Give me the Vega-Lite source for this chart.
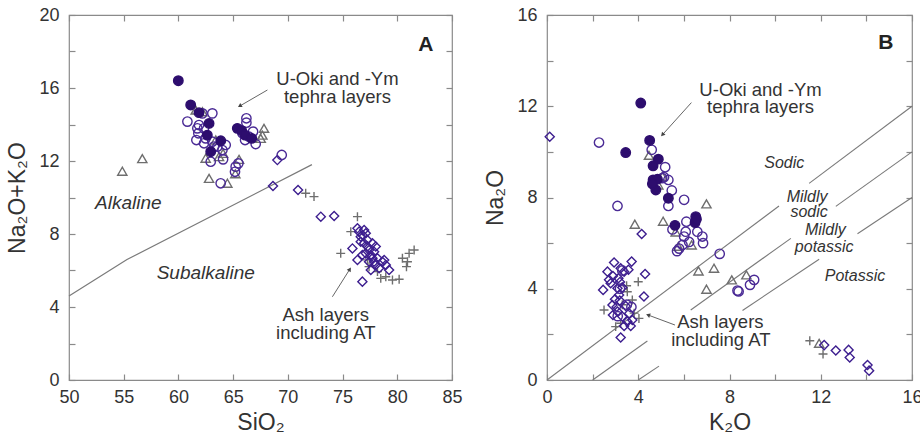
{
"$schema": "https://vega.github.io/schema/vega-lite/v6.json",
"background": "white",
"padding": {"left": 6, "top": 5, "right": 5, "bottom": 5},
"spacing": 21,
"config": {
 "font": "Liberation Sans",
 "view": {"stroke": "#8a8a8a", "strokeWidth": 1.2},
 "axis": {"domain": false, "grid": false, "tickColor": "#8a8a8a", "tickSize": -6, "tickWidth": 1.2, "labelFont": "Liberation Sans", "labelFontSize": 18, "labelColor": "#333333", "labelPadding": 15, "titleFont": "Liberation Sans", "titleFontSize": 23, "titleFontWeight": "normal", "titleColor": "#333333", "labelFlush": false, "labelOverlap": false}
},
"datasets": {
 "a_pts": [
  {"t":"tri","x":61.58,"y":14.79},{"t":"tri","x":62.19,"y":14.7},{"t":"tri","x":63.41,"y":13.15},{"t":"tri","x":62.49,"y":12.15},{"t":"tri","x":63.71,"y":12.24},{"t":"tri","x":64.08,"y":12.42},{"t":"tri","x":65.54,"y":12.09},{"t":"tri","x":62.8,"y":11.05},{"t":"tri","x":64.47,"y":10.78},{"t":"tri","x":67.82,"y":13.79},{"t":"tri","x":67.67,"y":13.42},{"t":"tri","x":67.52,"y":13.24},{"t":"tri","x":54.87,"y":11.44},{"t":"tri","x":56.7,"y":12.13},{"t":"tri","x":65.2,"y":11.3},
  {"t":"p","x":71.63,"y":10.23},{"t":"p","x":72.39,"y":10.05},{"t":"p","x":76.36,"y":8.95},{"t":"p","x":75.75,"y":8.13},{"t":"p","x":74.83,"y":6.94},{"t":"p","x":77.27,"y":6.58},{"t":"p","x":78.19,"y":5.94},{"t":"p","x":78.95,"y":5.66},{"t":"p","x":79.56,"y":5.48},{"t":"p","x":80.17,"y":5.52},{"t":"p","x":80.47,"y":6.67},{"t":"p","x":80.93,"y":6.48},{"t":"p","x":81.08,"y":6.94},{"t":"p","x":81.54,"y":7.12},{"t":"p","x":80.84,"y":6.21},{"t":"p","x":78.49,"y":5.57},{"t":"p","x":77.42,"y":6.21},
  {"t":"d","x":69.04,"y":12.05},{"t":"d","x":68.64,"y":10.63},{"t":"d","x":70.93,"y":10.41},{"t":"d","x":73.01,"y":8.95},{"t":"d","x":74.23,"y":8.99},{"t":"d","x":76.36,"y":8.31},{"t":"d","x":76.51,"y":8.13},{"t":"d","x":76.81,"y":7.95},{"t":"d","x":76.66,"y":7.58},{"t":"d","x":75.9,"y":7.21},{"t":"d","x":76.36,"y":6.58},{"t":"d","x":76.81,"y":5.39},{"t":"d","x":76.97,"y":7.49},{"t":"d","x":77.27,"y":7.31},{"t":"d","x":77.42,"y":7.12},{"t":"d","x":77.12,"y":6.94},{"t":"d","x":77.58,"y":6.85},{"t":"d","x":77.73,"y":6.67},{"t":"d","x":77.88,"y":6.48},{"t":"d","x":78.03,"y":6.3},{"t":"d","x":77.58,"y":6.03},{"t":"d","x":78.34,"y":6.12},{"t":"d","x":78.64,"y":6.48},{"t":"d","x":78.95,"y":6.3},{"t":"d","x":79.25,"y":6.03},{"t":"d","x":77.27,"y":7.67},{"t":"d","x":77.73,"y":7.49},{"t":"d","x":78.03,"y":7.31},{"t":"d","x":77.88,"y":7.03},{"t":"d","x":77.42,"y":6.48},{"t":"d","x":78.19,"y":6.67},{"t":"d","x":76.81,"y":6.85},{"t":"d","x":78.8,"y":6.57},{"t":"d","x":77.12,"y":8.04},{"t":"d","x":76.66,"y":7.85},{"t":"d","x":76.97,"y":8.22},
  {"t":"o","x":60.82,"y":14.16},{"t":"o","x":62.19,"y":14.61},{"t":"o","x":63.1,"y":14.61},{"t":"o","x":61.88,"y":13.97},{"t":"o","x":62.34,"y":13.79},{"t":"o","x":61.73,"y":13.79},{"t":"o","x":61.82,"y":13.52},{"t":"o","x":61.64,"y":13.15},{"t":"o","x":62.49,"y":13.24},{"t":"o","x":63.1,"y":13.06},{"t":"o","x":62.34,"y":12.97},{"t":"o","x":63.56,"y":12.79},{"t":"o","x":64.02,"y":12.6},{"t":"o","x":64.08,"y":12.09},{"t":"o","x":62.95,"y":11.96},{"t":"o","x":63.25,"y":12.79},{"t":"o","x":64.32,"y":12.88},{"t":"o","x":63.86,"y":10.78},{"t":"o","x":65.23,"y":11.69},{"t":"o","x":65.17,"y":11.41},{"t":"o","x":65.48,"y":11.87},{"t":"o","x":66.21,"y":14.34},{"t":"o","x":66.21,"y":14.1},{"t":"o","x":65.84,"y":13.52},{"t":"o","x":66.45,"y":13.33},{"t":"o","x":66.82,"y":13.61},{"t":"o","x":66.09,"y":13.15},{"t":"o","x":67.06,"y":12.93},{"t":"o","x":69.44,"y":12.33},
  {"t":"f","x":59.99,"y":16.4},{"t":"f","x":61.12,"y":15.07},{"t":"f","x":61.88,"y":14.65},{"t":"f","x":62.8,"y":14.06},{"t":"f","x":62.64,"y":13.42},{"t":"f","x":63.87,"y":13.11},{"t":"f","x":62.95,"y":12.51},{"t":"f","x":65.38,"y":13.79},{"t":"f","x":65.78,"y":13.66},{"t":"f","x":66.09,"y":13.42},{"t":"f","x":66.7,"y":13.24}
 ],
 "b_pts": [
  {"t":"tri","x":4.47,"y":9.85},{"t":"tri","x":5.06,"y":8.93},{"t":"tri","x":4.88,"y":8.55},{"t":"tri","x":5.09,"y":6.96},{"t":"tri","x":3.85,"y":6.83},{"t":"tri","x":6.99,"y":7.72},{"t":"tri","x":5.64,"y":6.49},{"t":"tri","x":6.34,"y":5.92},{"t":"tri","x":5.76,"y":5.86},{"t":"tri","x":6.64,"y":4.78},{"t":"tri","x":7.32,"y":4.9},{"t":"tri","x":6.99,"y":3.98},{"t":"tri","x":8.1,"y":4.39},{"t":"tri","x":8.74,"y":4.61},{"t":"tri","x":11.93,"y":1.61},
  {"t":"p","x":4.0,"y":4.31},{"t":"p","x":3.49,"y":4.13},{"t":"p","x":2.5,"y":3.07},{"t":"p","x":3.01,"y":2.34},{"t":"p","x":3.23,"y":2.49},{"t":"p","x":4.03,"y":2.7},{"t":"p","x":3.74,"y":3.51},{"t":"p","x":3.52,"y":3.87},{"t":"p","x":3.82,"y":2.93},{"t":"p","x":3.3,"y":3.3},{"t":"p","x":11.52,"y":1.72},{"t":"p","x":12.1,"y":1.14},
  {"t":"d","x":0.12,"y":10.66},{"t":"d","x":4.15,"y":6.4},{"t":"d","x":3.71,"y":5.19},{"t":"d","x":2.94,"y":5.15},{"t":"d","x":2.65,"y":4.75},{"t":"d","x":2.89,"y":4.56},{"t":"d","x":3.23,"y":4.9},{"t":"d","x":3.38,"y":4.75},{"t":"d","x":3.57,"y":4.83},{"t":"d","x":3.13,"y":4.46},{"t":"d","x":2.79,"y":4.24},{"t":"d","x":2.46,"y":3.95},{"t":"d","x":3.09,"y":4.02},{"t":"d","x":3.3,"y":4.06},{"t":"d","x":4.3,"y":4.65},{"t":"d","x":2.98,"y":3.54},{"t":"d","x":2.87,"y":3.29},{"t":"d","x":3.19,"y":3.48},{"t":"d","x":3.45,"y":3.24},{"t":"d","x":4.25,"y":3.66},{"t":"d","x":3.09,"y":3.0},{"t":"d","x":2.89,"y":2.85},{"t":"d","x":3.3,"y":2.78},{"t":"d","x":3.6,"y":2.92},{"t":"d","x":3.52,"y":2.56},{"t":"d","x":3.74,"y":2.63},{"t":"d","x":3.38,"y":2.37},{"t":"d","x":3.67,"y":2.37},{"t":"d","x":3.16,"y":3.73},{"t":"d","x":2.72,"y":4.39},{"t":"d","x":3.23,"y":1.86},{"t":"d","x":3.05,"y":3.2},{"t":"d","x":3.2,"y":4.3},{"t":"d","x":12.15,"y":1.53},{"t":"d","x":12.66,"y":1.29},{"t":"d","x":13.22,"y":1.32},{"t":"d","x":13.27,"y":0.99},{"t":"d","x":14.05,"y":0.66},{"t":"d","x":14.12,"y":0.41},
  {"t":"o","x":2.28,"y":10.41},{"t":"o","x":4.59,"y":10.09},{"t":"o","x":5.18,"y":9.33},{"t":"o","x":5.13,"y":8.89},{"t":"o","x":5.32,"y":8.77},{"t":"o","x":5.47,"y":8.31},{"t":"o","x":5.32,"y":7.63},{"t":"o","x":3.09,"y":7.63},{"t":"o","x":6.01,"y":7.9},{"t":"o","x":5.05,"y":8.85},{"t":"o","x":5.5,"y":6.6},{"t":"o","x":6.11,"y":6.94},{"t":"o","x":6.08,"y":6.5},{"t":"o","x":6.01,"y":6.29},{"t":"o","x":5.94,"y":5.92},{"t":"o","x":5.79,"y":5.76},{"t":"o","x":5.7,"y":5.65},{"t":"o","x":6.23,"y":6.05},{"t":"o","x":6.59,"y":6.5},{"t":"o","x":6.81,"y":6.29},{"t":"o","x":6.84,"y":6.0},{"t":"o","x":7.57,"y":5.53},{"t":"o","x":8.35,"y":3.92},{"t":"o","x":8.4,"y":3.88},{"t":"o","x":8.9,"y":4.17},{"t":"o","x":9.08,"y":4.39},{"t":"o","x":3.2,"y":4.0},{"t":"o","x":3.5,"y":3.3},{"t":"o","x":3.1,"y":2.8},{"t":"o","x":3.7,"y":3.2},{"t":"o","x":3.3,"y":4.8},
  {"t":"f","x":4.11,"y":12.14},{"t":"f","x":3.45,"y":9.97},{"t":"f","x":4.5,"y":10.5},{"t":"f","x":4.88,"y":9.68},{"t":"f","x":4.65,"y":9.39},{"t":"f","x":4.65,"y":8.77},{"t":"f","x":4.84,"y":8.8},{"t":"f","x":4.77,"y":8.33},{"t":"f","x":4.62,"y":8.6},{"t":"f","x":5.32,"y":7.97},{"t":"f","x":5.61,"y":6.78},{"t":"f","x":6.52,"y":7.16},{"t":"f","x":6.49,"y":6.9},{"t":"f","x":6.55,"y":7.05}
 ],
 "a_lines": [
  {"seg":"ab","x":50,"y":4.6},{"seg":"ab","x":55.3,"y":6.6},{"seg":"ab","x":72.2,"y":11.8}
 ],
 "b_lines": [
  {"seg":"1a","x":0,"y":0},{"seg":"1a","x":10.17,"y":7.63},
  {"seg":"1b","x":11.49,"y":8.62},{"seg":"1b","x":16,"y":12},
  {"seg":"2a","x":2,"y":0},{"seg":"2a","x":4.4,"y":1.71},
  {"seg":"2b","x":6.3,"y":3.07},{"seg":"2b","x":10.69,"y":6.21},
  {"seg":"2c","x":12.66,"y":7.61},{"seg":"2c","x":16,"y":10},
  {"seg":"3a","x":4,"y":0},{"seg":"3a","x":4.91,"y":0.61},
  {"seg":"3b","x":8.57,"y":3.05},{"seg":"3b","x":11.93,"y":5.29},
  {"seg":"3c","x":13.61,"y":6.41},{"seg":"3c","x":16,"y":8}
 ],
 "a_arrows": [
  {"x":68.13,"y":15.89,"x2":65.6,"y2":15.01},
  {"x":74.07,"y":4.56,"x2":75.66,"y2":6.07}
 ],
 "b_arrows": [
  {"x":6.33,"y":12.16,"x2":5.06,"y2":10.75},
  {"x":5.61,"y":2.41,"x2":4.43,"y2":2.85}
 ],
 "a_text": [
  {"x":74.53,"y":16.48,"label":"U-Oki and -Ym"},
  {"x":74.53,"y":15.52,"label":"tephra layers"},
  {"x":73.46,"y":3.56,"label":"Ash layers"},
  {"x":73.46,"y":2.56,"label":"including AT"}
 ],
 "a_ital": [
  {"x":55.42,"y":9.72,"label":"Alkaline"},
  {"x":62.5,"y":5.88,"label":"Subalkaline"}
 ],
 "b_text": [
  {"x":9.36,"y":12.72,"label":"U-Oki and -Ym"},
  {"x":9.36,"y":11.96,"label":"tephra layers"},
  {"x":7.6,"y":2.56,"label":"Ash layers"},
  {"x":7.62,"y":1.75,"label":"including AT"}
 ],
 "b_ital": [
  {"x":10.4,"y":9.52,"label":"Sodic"},
  {"x":11.4,"y":8.03,"label":"Mildly"},
  {"x":11.49,"y":7.37,"label":"sodic"},
  {"x":12.2,"y":6.58,"label":"Mildly"},
  {"x":12.15,"y":5.83,"label":"potassic"},
  {"x":13.5,"y":4.56,"label":"Potassic"}
 ]
},
"hconcat": [
 {
  "width": 383, "height": 365,
  "resolve": {"axis": {"x": "independent", "y": "independent"}},
  "layer": [
   {
    "data": {"name": "a_lines"},
    "mark": {"type": "line", "color": "#7a7a7a", "strokeWidth": 1.2},
    "encoding": {
     "x": {"field": "x", "type": "quantitative", "scale": {"domain": [50, 85], "nice": false, "zero": false}, "axis": {"orient": "top", "labels": false, "title": null, "values": [50,55,60,65,70,75,80,85]}},
     "y": {"field": "y", "type": "quantitative", "scale": {"domain": [0, 20], "nice": false}, "axis": {"orient": "right", "labels": false, "title": null, "values": [0,2,4,6,8,10,12,14,16,18,20]}},
     "detail": {"field": "seg"}
    }
   },
   {
    "data": {"name": "a_pts"},
    "mark": {"type": "point", "strokeWidth": 1.4, "opacity": 1},
    "encoding": {
     "x": {"field": "x", "type": "quantitative", "scale": {"domain": [50, 85], "nice": false, "zero": false}, "axis": {"orient": "bottom", "title": "SiO₂", "values": [50,55,60,65,70,75,80,85], "titlePadding": 5, "labelPadding": 14}},
     "y": {"field": "y", "type": "quantitative", "scale": {"domain": [0, 20], "nice": false}, "axis": {"orient": "left", "title": "Na₂O+K₂O", "values": [0,2,4,6,8,10,12,14,16,18,20], "labelExpr": "datum.value % 4 == 0 ? datum.label : ''", "titlePadding": 9, "labelPadding": 16}},
     "shape": {"field": "t", "type": "nominal", "scale": {"domain": ["f","o","tri","d","p"], "range": ["circle","circle","triangle-up","diamond","M-1,0H1M0,-1V1"]}, "legend": null},
     "stroke": {"field": "t", "type": "nominal", "scale": {"domain": ["f","o","tri","d","p"], "range": ["#2d0d6e","#4a2a95","#6e6e6e","#3d1e8f","#6e6e6e"]}, "legend": null},
     "fill": {"field": "t", "type": "nominal", "scale": {"domain": ["f","o","tri","d","p"], "range": ["#2d0d6e","transparent","transparent","transparent","transparent"]}, "legend": null},
     "size": {"field": "t", "type": "nominal", "scale": {"domain": ["f","o","tri","d","p"], "range": [90, 80, 50, 50, 50]}, "legend": null}
    }
   },
   {
    "data": {"name": "a_arrows"},
    "mark": {"type": "rule", "color": "#666666", "strokeWidth": 1},
    "encoding": {
     "x": {"field": "x", "type": "quantitative", "axis": null},
     "y": {"field": "y", "type": "quantitative", "axis": null},
     "x2": {"field": "x2"}, "y2": {"field": "y2"}
    }
   },
   {
    "data": {"values": [{"x": 65.6, "y": 15.01}]},
    "mark": {"type": "point", "shape": "triangle-up", "filled": true, "color": "#444444", "size": 22, "angle": 240, "opacity": 1},
    "encoding": {"x": {"field": "x", "type": "quantitative", "axis": null}, "y": {"field": "y", "type": "quantitative", "axis": null}}
   },
   {
    "data": {"values": [{"x": 75.66, "y": 6.07}]},
    "mark": {"type": "point", "shape": "triangle-up", "filled": true, "color": "#444444", "size": 22, "angle": 32, "opacity": 1},
    "encoding": {"x": {"field": "x", "type": "quantitative", "axis": null}, "y": {"field": "y", "type": "quantitative", "axis": null}}
   },
   {
    "data": {"name": "a_text"},
    "mark": {"type": "text", "fontSize": 18.5, "color": "#333333", "font": "Liberation Sans", "align": "center", "baseline": "middle"},
    "encoding": {"x": {"field": "x", "type": "quantitative", "axis": null}, "y": {"field": "y", "type": "quantitative", "axis": null}, "text": {"field": "label"}}
   },
   {
    "data": {"name": "a_ital"},
    "mark": {"type": "text", "fontSize": 19, "fontStyle": "italic", "color": "#333333", "font": "Liberation Sans", "align": "center", "baseline": "middle"},
    "encoding": {"x": {"field": "x", "type": "quantitative", "axis": null}, "y": {"field": "y", "type": "quantitative", "axis": null}, "text": {"field": "label"}}
   },
   {
    "data": {"values": [{"x": 82.6, "y": 18.36, "label": "A"}]},
    "mark": {"type": "text", "fontSize": 21, "fontWeight": "bold", "color": "#222222", "font": "Liberation Sans", "align": "center", "baseline": "middle"},
    "encoding": {"x": {"field": "x", "type": "quantitative", "axis": null}, "y": {"field": "y", "type": "quantitative", "axis": null}, "text": {"field": "label"}}
   }
  ]
 },
 {
  "width": 365, "height": 365,
  "resolve": {"axis": {"x": "independent", "y": "independent"}},
  "layer": [
   {
    "data": {"name": "b_lines"},
    "mark": {"type": "line", "color": "#7a7a7a", "strokeWidth": 1.1},
    "encoding": {
     "x": {"field": "x", "type": "quantitative", "scale": {"domain": [0, 16], "nice": false}, "axis": {"orient": "top", "labels": false, "title": null, "values": [0,2,4,6,8,10,12,14,16]}},
     "y": {"field": "y", "type": "quantitative", "scale": {"domain": [0, 16], "nice": false}, "axis": {"orient": "right", "labels": false, "title": null, "values": [0,2,4,6,8,10,12,14,16]}},
     "detail": {"field": "seg"}
    }
   },
   {
    "data": {"name": "b_pts"},
    "mark": {"type": "point", "strokeWidth": 1.4, "opacity": 1},
    "encoding": {
     "x": {"field": "x", "type": "quantitative", "scale": {"domain": [0, 16], "nice": false}, "axis": {"orient": "bottom", "title": "K₂O", "values": [0,2,4,6,8,10,12,14,16], "labelExpr": "datum.value % 4 == 0 ? datum.label : ''", "titlePadding": 5, "labelPadding": 14}},
     "y": {"field": "y", "type": "quantitative", "scale": {"domain": [0, 16], "nice": false}, "axis": {"orient": "left", "title": "Na₂O", "values": [0,2,4,6,8,10,12,14,16], "labelExpr": "datum.value % 4 == 0 ? datum.label : ''", "titlePadding": 9, "labelPadding": 16}},
     "shape": {"field": "t", "type": "nominal", "scale": {"domain": ["f","o","tri","d","p"], "range": ["circle","circle","triangle-up","diamond","M-1,0H1M0,-1V1"]}, "legend": null},
     "stroke": {"field": "t", "type": "nominal", "scale": {"domain": ["f","o","tri","d","p"], "range": ["#2d0d6e","#4a2a95","#6e6e6e","#3d1e8f","#6e6e6e"]}, "legend": null},
     "fill": {"field": "t", "type": "nominal", "scale": {"domain": ["f","o","tri","d","p"], "range": ["#2d0d6e","transparent","transparent","transparent","transparent"]}, "legend": null},
     "size": {"field": "t", "type": "nominal", "scale": {"domain": ["f","o","tri","d","p"], "range": [90, 85, 50, 50, 50]}, "legend": null}
    }
   },
   {
    "data": {"name": "b_arrows"},
    "mark": {"type": "rule", "color": "#666666", "strokeWidth": 1},
    "encoding": {
     "x": {"field": "x", "type": "quantitative", "axis": null},
     "y": {"field": "y", "type": "quantitative", "axis": null},
     "x2": {"field": "x2"}, "y2": {"field": "y2"}
    }
   },
   {
    "data": {"values": [{"x": 5.06, "y": 10.75}]},
    "mark": {"type": "point", "shape": "triangle-up", "filled": true, "color": "#444444", "size": 22, "angle": 222, "opacity": 1},
    "encoding": {"x": {"field": "x", "type": "quantitative", "axis": null}, "y": {"field": "y", "type": "quantitative", "axis": null}}
   },
   {
    "data": {"values": [{"x": 4.43, "y": 2.85}]},
    "mark": {"type": "point", "shape": "triangle-up", "filled": true, "color": "#444444", "size": 22, "angle": 290, "opacity": 1},
    "encoding": {"x": {"field": "x", "type": "quantitative", "axis": null}, "y": {"field": "y", "type": "quantitative", "axis": null}}
   },
   {
    "data": {"name": "b_text"},
    "mark": {"type": "text", "fontSize": 18.5, "color": "#333333", "font": "Liberation Sans", "align": "center", "baseline": "middle"},
    "encoding": {"x": {"field": "x", "type": "quantitative", "axis": null}, "y": {"field": "y", "type": "quantitative", "axis": null}, "text": {"field": "label"}}
   },
   {
    "data": {"name": "b_ital"},
    "mark": {"type": "text", "fontSize": 16, "fontStyle": "italic", "color": "#333333", "font": "Liberation Sans", "align": "center", "baseline": "middle"},
    "encoding": {"x": {"field": "x", "type": "quantitative", "axis": null}, "y": {"field": "y", "type": "quantitative", "axis": null}, "text": {"field": "label"}}
   },
   {
    "data": {"values": [{"x": 14.85, "y": 14.77, "label": "B"}]},
    "mark": {"type": "text", "fontSize": 21, "fontWeight": "bold", "color": "#222222", "font": "Liberation Sans", "align": "center", "baseline": "middle"},
    "encoding": {"x": {"field": "x", "type": "quantitative", "axis": null}, "y": {"field": "y", "type": "quantitative", "axis": null}, "text": {"field": "label"}}
   }
  ]
 }
]
}
